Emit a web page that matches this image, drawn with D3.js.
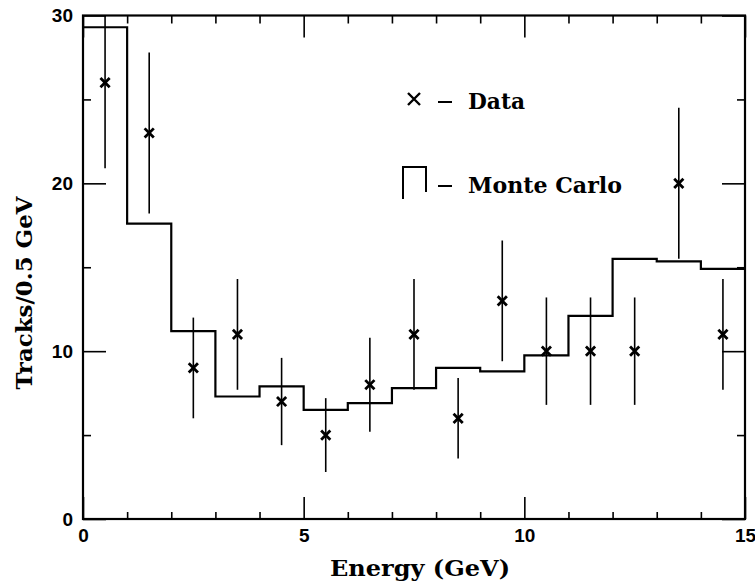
<!DOCTYPE html>
<html>
<head>
<meta charset="utf-8">
<script src="https://cdn.jsdelivr.net/npm/d3@7"></script>
<style>
  body { margin: 0; background: #fff; }
  svg { display: block; }
</style>
</head>
<body>
<div id="chart"></div>
<script>
  // Bin edges (GeV) and values
  const binEdges = [0, 1, 2, 3, 4, 5, 6, 7, 8, 9, 10, 11, 12, 13, 14, 15];
  const mcTracks = [29.3, 17.6, 11.2, 7.3, 7.9, 6.5, 6.9, 7.8, 9.0, 8.8, 9.75, 12.1, 15.5, 15.35, 14.9];

  const dataEnergy = [0.5, 1.5, 2.5, 3.5, 4.5, 5.5, 6.5, 7.5, 8.5, 9.5, 10.5, 11.5, 12.5, 13.5, 14.5];
  const dataTracks = [26, 23, 9, 11, 7, 5, 8, 11, 6, 13, 10, 10, 10, 20, 11];
  const dataErr    = [5.1, 4.8, 3.0, 3.3, 2.6, 2.2, 2.8, 3.3, 2.4, 3.6, 3.2, 3.2, 3.2, 4.5, 3.3];

  const xMajor = [0, 5, 10, 15];
  const xMinor = [1, 2, 3, 4, 6, 7, 8, 9, 11, 12, 13, 14];
  const yMajor = [0, 10, 20, 30];
  const yMinor = [5, 15, 25];

  const W = 755, H = 585;
  const pLeft = 83, pRight = 745, pTop = 15.5, pBottom = 519;

  const x = d3.scaleLinear().domain([0, 15]).range([pLeft, pRight]);
  const y = d3.scaleLinear().domain([0, 30]).range([pBottom, pTop]);

  const svg = d3.select("#chart").append("svg")
    .attr("width", W)
    .attr("height", H);

  svg.append("defs").append("clipPath")
    .attr("id", "plot-clip")
    .append("rect")
    .attr("x", pLeft).attr("y", pTop)
    .attr("width", pRight - pLeft).attr("height", pBottom - pTop);

  // ticks, all pointing inward
  function tickAxis(axis, ticks, size, tx, ty, labels) {
    const g = svg.append("g")
      .attr("transform", `translate(${tx},${ty})`)
      .call(axis.tickValues(ticks).tickSizeInner(-size).tickSizeOuter(0)
        .tickPadding(labels ? 10 : 0)
        .tickFormat(labels ? d3.format("d") : ""));
    g.select(".domain").remove();
    g.selectAll(".tick line").attr("stroke", "#000").attr("stroke-width", 1.6);
    g.selectAll(".tick text")
      .attr("fill", "#000")
      .style("font-family", "'Liberation Sans', Arial, sans-serif")
      .style("font-weight", "bold")
      .style("font-size", "19px");
    return g;
  }

  tickAxis(d3.axisBottom(x), xMajor, 22, 0, pBottom, true);
  tickAxis(d3.axisBottom(x), xMinor, 7, 0, pBottom, false);
  tickAxis(d3.axisTop(x), xMajor, 22, 0, pTop, false);
  tickAxis(d3.axisTop(x), xMinor, 8, 0, pTop, false);
  tickAxis(d3.axisLeft(y), yMajor, 23, pLeft, 0, true);
  tickAxis(d3.axisLeft(y), yMinor, 8, pLeft, 0, false);
  tickAxis(d3.axisRight(y), yMajor, 23, pRight, 0, false);
  tickAxis(d3.axisRight(y), yMinor, 8, pRight, 0, false);

  // frame
  svg.append("rect")
    .attr("x", pLeft).attr("y", pTop)
    .attr("width", pRight - pLeft).attr("height", pBottom - pTop)
    .attr("fill", "none")
    .attr("stroke", "#000")
    .attr("stroke-width", 2.2);

  const plot = svg.append("g").attr("clip-path", "url(#plot-clip)");

  // Monte Carlo histogram
  const histPts = mcTracks.map((v, i) => [binEdges[i], v]);
  histPts.push([binEdges[binEdges.length - 1], mcTracks[mcTracks.length - 1]]);

  const step = d3.line()
    .x(d => x(d[0]))
    .y(d => y(d[1]))
    .curve(d3.curveStepAfter);

  plot.append("path")
    .datum(histPts)
    .attr("d", step)
    .attr("fill", "none")
    .attr("stroke", "#000")
    .attr("stroke-width", 2.2);

  // data error bars
  plot.selectAll("line.err")
    .data(dataEnergy)
    .enter().append("line")
    .attr("class", "err")
    .attr("x1", d => x(d))
    .attr("x2", d => x(d))
    .attr("y1", (d, i) => y(dataTracks[i] - dataErr[i]))
    .attr("y2", (d, i) => y(dataTracks[i] + dataErr[i]))
    .attr("stroke", "#000")
    .attr("stroke-width", 1.6);

  const cross = s => `M${-s},${-s}L${s},${s}M${-s},${s}L${s},${-s}`;

  plot.selectAll("path.pt")
    .data(dataEnergy)
    .enter().append("path")
    .attr("class", "pt")
    .attr("transform", (d, i) => `translate(${x(d)},${y(dataTracks[i])})`)
    .attr("d", cross(4.6))
    .attr("stroke", "#000")
    .attr("stroke-width", 2.8)
    .attr("fill", "none");

  // typewriter-style labels (slab serif, squeezed to the original widths)
  const slab = "'DejaVu Serif', 'Liberation Serif', serif";

  svg.append("text")
    .attr("x", 420)
    .attr("y", 576)
    .attr("text-anchor", "middle")
    .attr("textLength", 180)
    .attr("lengthAdjust", "spacingAndGlyphs")
    .style("font-family", slab)
    .style("font-weight", "bold")
    .style("font-size", "23px")
    .text("Energy (GeV)");

  svg.append("text")
    .attr("transform", "translate(32,293) rotate(-90)")
    .attr("text-anchor", "middle")
    .attr("textLength", 193)
    .attr("lengthAdjust", "spacingAndGlyphs")
    .style("font-family", slab)
    .style("font-weight", "bold")
    .style("font-size", "23px")
    .text("Tracks/0.5 GeV");

  // legend
  const legend = svg.append("g");

  legend.append("path")
    .attr("transform", "translate(414,99)")
    .attr("d", cross(6))
    .attr("stroke", "#000")
    .attr("stroke-width", 2.4)
    .attr("fill", "none");

  legend.append("path")
    .attr("d", "M403,199V167H426V192")
    .attr("stroke", "#000")
    .attr("stroke-width", 2)
    .attr("fill", "none");

  [102, 186].forEach(yy => {
    legend.append("line")
      .attr("x1", 438).attr("x2", 452)
      .attr("y1", yy).attr("y2", yy)
      .attr("stroke", "#000")
      .attr("stroke-width", 2);
  });

  [["Data", 109, 57], ["Monte Carlo", 193, 154]].forEach(([t, yy, len]) => {
    legend.append("text")
      .attr("x", 468)
      .attr("y", yy)
      .attr("textLength", len)
      .attr("lengthAdjust", "spacingAndGlyphs")
      .style("font-family", slab)
      .style("font-weight", "bold")
      .style("font-size", "23px")
      .text(t);
  });
</script>
</body>
</html>
